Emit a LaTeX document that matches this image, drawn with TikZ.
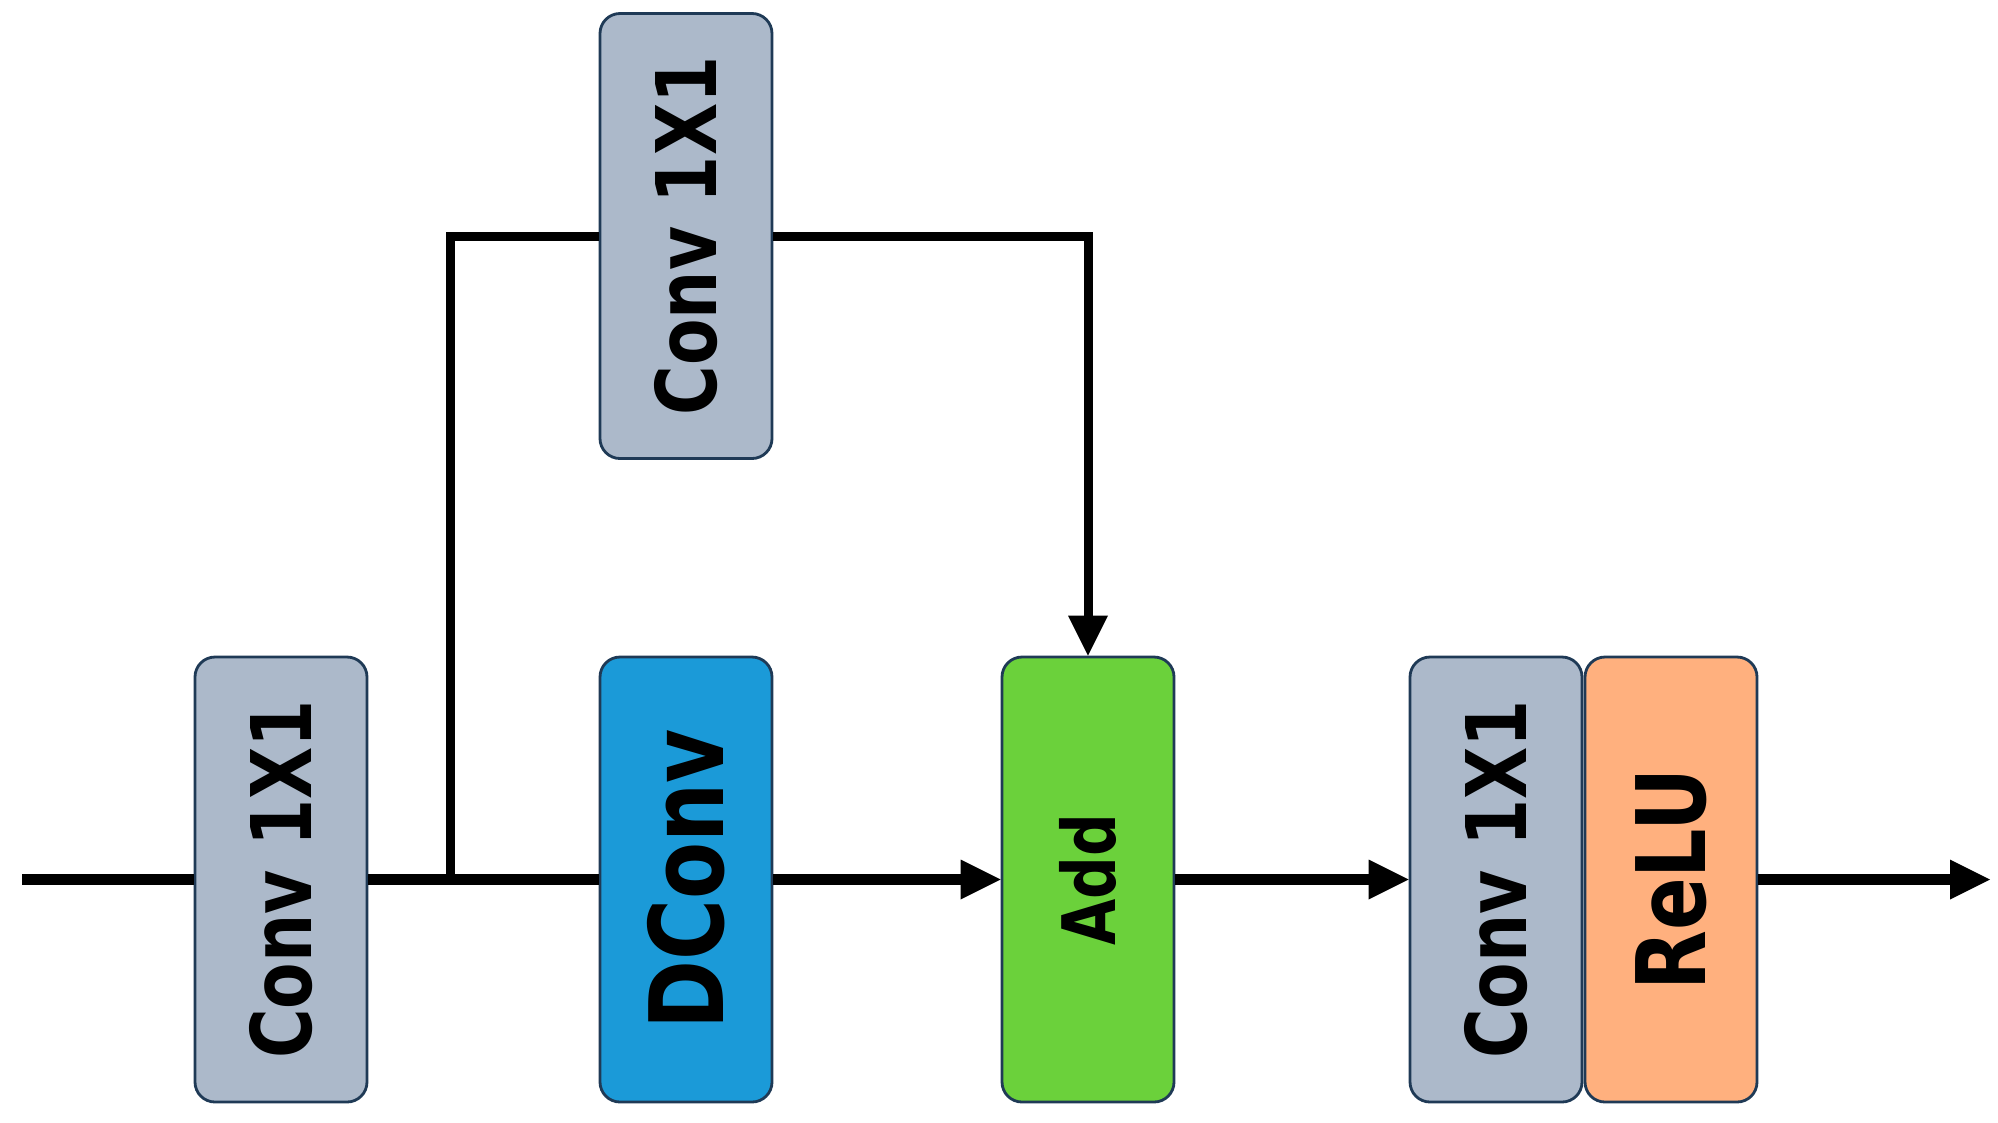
\documentclass[tikz,border=0pt]{standalone}
\usepackage{fontspec}
\newfontfamily\blockfont{DejaVu Sans}[FakeStretch=0.81]
\usepackage{graphicx}
\usepackage{xcolor}
\usepackage{tikz}
\usetikzlibrary{arrows,calc}
\usetikzlibrary{positioning}

\definecolor{boxline}{HTML}{1F3A56}
\definecolor{convgray}{HTML}{ACB9CA}
\definecolor{dconvblue}{HTML}{1B9AD8}
\definecolor{addgreen}{HTML}{6BD13B}
\definecolor{relupeach}{HTML}{FFB07E}

% solid tip of fixed size
\pgfarrowsdeclare{solidtip}{solidtip}
{\pgfarrowsleftextend{-0.4mm}\pgfarrowsrightextend{3.6mm}}
{\pgfpathmoveto{\pgfpoint{3.6mm}{0pt}}
 \pgfpathlineto{\pgfpoint{-0.4mm}{2mm}}
 \pgfpathlineto{\pgfpoint{-0.4mm}{-2mm}}
 \pgfpathclose
 \pgfusepathqfill}

\begin{document}
\begin{tikzpicture}[auto, node distance=4.05cm, >=solidtip,
  font=\blockfont\bfseries]
\tikzset{block/.style = {draw=boxline, line width=.8pt, rectangle,
  rounded corners=.2cm, minimum height=4.45cm, minimum width=1.72cm,
  inner sep=0pt}}
\tikzset{flow/.style = {line width=.115cm}}
\tikzset{branch/.style = {line width=.09cm}}

  \useasboundingbox (0,0) rectangle (19.98,-11.22);

  % main row
  \node[block, fill=convgray] (convin) at (2.81,-8.795)
    {\rotatebox{90}{\fontsize{23.8}{24}\selectfont Conv 1X1}};
  \node[block, fill=dconvblue, right of=convin] (dconv)
    {\rotatebox{90}{\fontsize{29.2}{29}\selectfont DConv}};
  \node[block, fill=addgreen, node distance=4.02cm, right of=dconv] (add)
    {\rotatebox{90}{\fontsize{21}{21}\selectfont Add}};
  \node[block, fill=convgray, node distance=4.08cm, right of=add] (convout)
    {\rotatebox{90}{\fontsize{23.8}{24}\selectfont Conv 1X1}};
  \node[block, fill=relupeach, node distance=1.75cm, right of=convout] (relu)
    {\rotatebox{90}{\fontsize{27.3}{27}\selectfont ReLU}};

  % side branch
  \node[block, fill=convgray, node distance=6.435cm, above of=dconv] (convtop)
    {\rotatebox{90}{\fontsize{23.8}{24}\selectfont Conv 1X1}};

  \coordinate (in) at (0.22,-8.795);
  \coordinate (out) at (19.9,-8.795);
  \coordinate[right of=convin, node distance=1.69cm] (split);

  \draw[flow] (in) -- (convin.west);
  \draw[flow] (convin.east) -- (dconv.west);
  \draw[flow,->] (dconv.east) -- (add.west);
  \draw[flow,->] (add.east) -- (convout.west);
  \draw[flow,->] (relu.east) -- (out);

  \draw[branch] (split) |- (convtop.west);
  \draw[branch,->] (convtop.east) -| (add.north);

\end{tikzpicture}
\end{document}
